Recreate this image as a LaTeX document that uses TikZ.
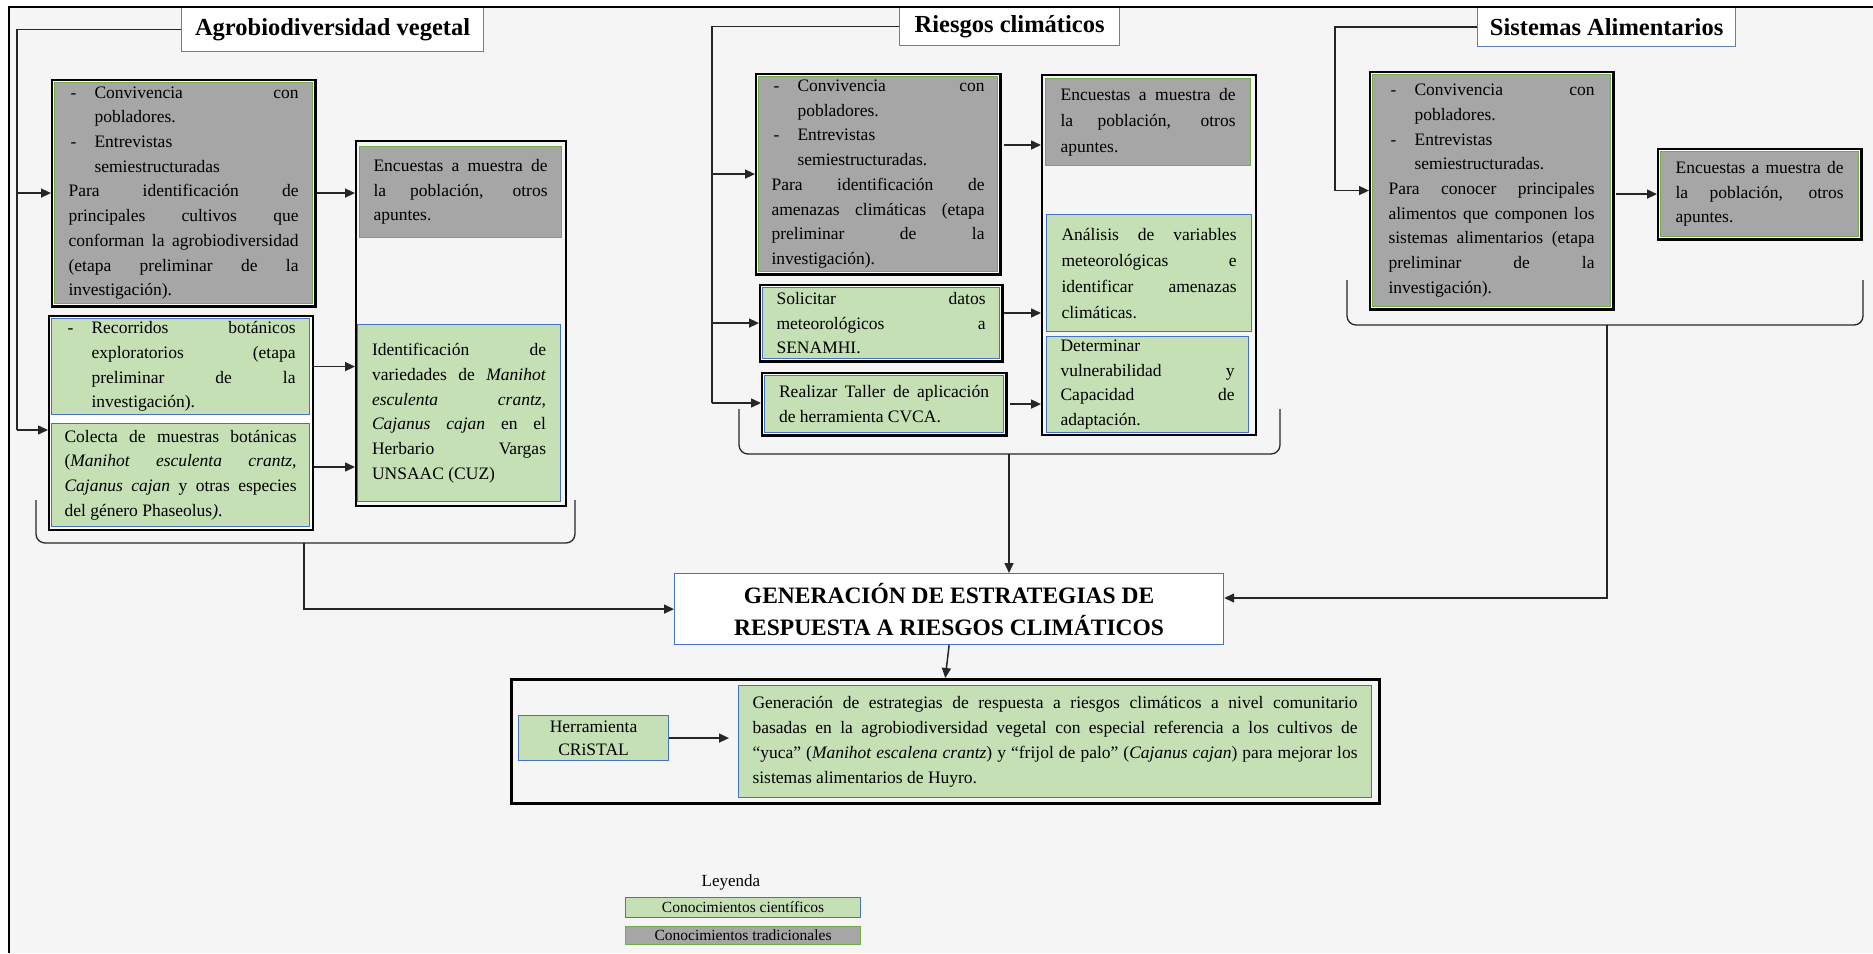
\documentclass[tikz,border=0pt]{standalone}
\usepackage{fontspec}
\setmainfont{Liberation Serif}
\usetikzlibrary{arrows.meta,calc}
\definecolor{bgc}{HTML}{F5F5F5}
\definecolor{grayF}{HTML}{A6A6A6}
\definecolor{greenF}{HTML}{C5E0B4}
\definecolor{greenB}{HTML}{70AD47}
\definecolor{blueB}{HTML}{4472C4}
\definecolor{titleB}{HTML}{5B82B5}
\tolerance=10000 \hyphenpenalty=10000 \exhyphenpenalty=10000 \hbadness=10000 \vbadness=10000
\newcommand{\bodyf}{\fontsize{17.5}{24.7}\selectfont}
\newcommand{\bul}[1]{\noindent\hangindent=26pt\hangafter=0\llap{\makebox[26pt][l]{\hspace{2pt}-}}#1\par}
\begin{document}
\begin{tikzpicture}[x=1pt,y=-1pt,
  base/.style={inner sep=0pt, anchor=north west, font=\bodyf, align=justify},
  trad/.style={base, fill=grayF, draw=greenB, line width=1.1pt},
  tradO/.style={trad, preaction={draw=black, line width=8pt}, preaction={draw=white, line width=3.6pt}},
  sci/.style={base, fill=greenF, draw=blueB, line width=1.1pt},
  sciO/.style={sci, preaction={draw=black, line width=8pt}, preaction={draw=white, line width=3.6pt}},
  bigbox/.style={draw=black, line width=2pt, anchor=north west, inner sep=0pt},
  titlebox/.style={draw=titleB, fill=white, line width=1.2pt, anchor=north west, inner sep=0pt, align=center, font=\fontsize{24.5}{28}\selectfont\bfseries},
  conn/.style={line width=1.5pt, draw=black!85},
  arr/.style={conn, -{Triangle[length=10pt,width=9pt]}},
  brk/.style={line width=1.3pt, draw=black!85, rounded corners=9pt}]
\useasboundingbox (0,0) rectangle (1873,953);
\fill[white] (0,0) rectangle (1873,953);
\fill[bgc] (9,7) rectangle (1873,953);

% ---------- titles ----------
\node[titlebox, minimum width=302pt, minimum height=44pt] (TA) at (181,7) {Agrobiodiversidad vegetal};
\node[titlebox, minimum width=220pt, minimum height=38pt] (TR) at (899,7) {Riesgos climáticos};
\node[titlebox, minimum width=258pt, minimum height=39pt] (TS) at (1477,7) {Sistemas Alimentarios};

% ---------- Agrobiodiversidad ----------
\node[tradO, minimum width=258pt, minimum height=221pt, text width=230pt] (A1) at (54,82)
 {\bul{Convivencia con\linebreak pobladores.}\bul{Entrevistas\linebreak semiestructuradas}\noindent Para identificación de\linebreak principales cultivos que\linebreak conforman la agrobiodiversidad\linebreak (etapa preliminar de la\linebreak investigación).};
\node[draw=black, line width=2.2pt, fill=white, anchor=north west, inner sep=0pt, minimum width=264pt, minimum height=214pt] (Aout) at (48,315) {};
\node[sci, minimum width=258pt, minimum height=96pt, text width=230pt] (A2) at (51,318)
 {\bul{Recorridos botánicos\linebreak exploratorios (etapa\linebreak preliminar de la\linebreak investigación).}};
\node[sci, minimum width=258pt, minimum height=103pt, text width=232pt] (A3) at (51,423)
 {\noindent Colecta de muestras botánicas\linebreak (\textit{Manihot esculenta crantz,}\linebreak \textit{Cajanus cajan} y otras especies\linebreak del género Phaseolus\textit{)}.};
\node[bigbox, minimum width=210pt, minimum height=365pt] (Abig) at (355,140) {};
\node[trad, minimum width=202pt, minimum height=91pt, text width=174pt] (Aenc) at (359,146)
 {\noindent Encuestas a muestra de\linebreak la población, otros\linebreak apuntes.};
\node[sci, minimum width=203pt, minimum height=177pt, text width=174pt] (Aid) at (357,324)
 {\noindent Identificación de\linebreak variedades de \textit{Manihot}\linebreak \textit{esculenta crantz,}\linebreak \textit{Cajanus cajan} en el\linebreak Herbario Vargas\linebreak UNSAAC (CUZ)};

% ---------- Riesgos ----------
\node[tradO, minimum width=239pt, minimum height=195pt, text width=213pt] (R1) at (758,76)
 {\bul{Convivencia con\linebreak pobladores.}\bul{Entrevistas\linebreak semiestructuradas.}\noindent Para identificación de\linebreak amenazas climáticas (etapa\linebreak preliminar de la\linebreak investigación).};
\node[sciO, minimum width=237pt, minimum height=71pt, text width=209pt] (Rsol) at (762,287)
 {\noindent Solicitar datos\linebreak meteorológicos a\linebreak SENAMHI.};
\node[sciO, minimum width=239pt, minimum height=57pt, text width=210pt] (Rreal) at (764,375)
 {\noindent Realizar Taller de aplicación\linebreak de herramienta CVCA.};
\node[bigbox, minimum width=214pt, minimum height=360pt] (Rbig) at (1041,74) {};
\node[trad, minimum width=205pt, minimum height=87pt, text width=175pt, font=\fontsize{17.5}{26}\selectfont] (Renc) at (1045,78)
 {\noindent Encuestas a muestra de\linebreak la población, otros\linebreak apuntes.};
\node[sci, minimum width=205pt, minimum height=117pt, text width=175pt, font=\fontsize{17.5}{26}\selectfont] (Rana) at (1046,214)
 {\noindent Análisis de variables\linebreak meteorológicas e\linebreak identificar amenazas\linebreak climáticas.};
\node[sci, minimum width=202pt, minimum height=96pt, text width=174pt] (Rdet) at (1046,336)
 {\noindent Determinar\linebreak vulnerabilidad y\linebreak Capacidad de\linebreak adaptación.};

% ---------- Sistemas ----------
\node[tradO, minimum width=238pt, minimum height=232pt, text width=206pt] (S1) at (1372,74)
 {\bul{Convivencia con\linebreak pobladores.}\bul{Entrevistas\linebreak semiestructuradas.}\noindent Para conocer principales\linebreak alimentos que componen los\linebreak sistemas alimentarios (etapa\linebreak preliminar de la\linebreak investigación).};
\node[tradO, minimum width=198pt, minimum height=85pt, text width=168pt] (S2) at (1660,151)
 {\noindent Encuestas a muestra de\linebreak la población, otros\linebreak apuntes.};

% ---------- central ----------
\node[draw=blueB, fill=white, line width=1.2pt, anchor=north west, inner sep=0pt, minimum width=549pt, minimum height=71pt, align=center, font=\fontsize{23.5}{32}\selectfont\bfseries] (Gen) at (674,573)
 {GENERACIÓN DE ESTRATEGIAS DE\\RESPUESTA A RIESGOS CLIMÁTICOS};
\node[draw=black, line width=2.5pt, anchor=north west, inner sep=0pt, minimum width=868pt, minimum height=124pt] (Bout) at (510,678) {};
\node[sci, align=center, minimum width=150pt, minimum height=45pt, font=\fontsize{17.5}{23}\selectfont] (Herr) at (518,715) {Herramienta\\CRiSTAL};
\node[sci, minimum width=633pt, minimum height=112pt, text width=605pt, font=\fontsize{17.5}{25}\selectfont] (Bgreen) at (738,685)
 {\noindent Generación de estrategias de respuesta a riesgos climáticos a nivel comunitario\linebreak basadas en la agrobiodiversidad vegetal con especial referencia a los cultivos de\linebreak “yuca” (\textit{Manihot escalena crantz}) y “frijol de palo” (\textit{Cajanus cajan}) para mejorar los\linebreak sistemas alimentarios de Huyro.};

% ---------- legend ----------
\node[font=\fontsize{17}{20}\selectfont, inner sep=0pt] (Ley) at (731,882) {Leyenda};
\node[sci, align=center, minimum width=235pt, minimum height=20pt, font=\fontsize{15.5}{18}\selectfont] (LS) at (625,897) {Conocimientos científicos};
\node[trad, align=center, minimum width=235pt, minimum height=18pt, font=\fontsize{15.5}{18}\selectfont] (LT) at (625,926) {Conocimientos tradicionales};

% ---------- connectors: Agrobiodiversidad ----------
\coordinate (lA) at (17,430);
\draw[conn] (TA.west) -| (lA);
\draw[arr] (lA |- A1.west) -- ($(A1.west)+(-3,0)$);
\draw[arr] (lA) -- (lA -| Aout.west);
\draw[arr] ($(A1.east)+(4,0)$) -- (A1.east -| Abig.west);
\draw[arr] (Aout.east |- A2.east) -- (A2.east -| Abig.west);
\coordinate (yA3) at (0,467);
\draw[arr] (Aout.east |- yA3) -- (Abig.west |- yA3);
\draw[brk] (36,500) -- (36,543) -- (575,543) -- (575,500);
\coordinate (bA) at (304,543);
\draw[arr] (bA) |- (Gen.west);

% ---------- connectors: Riesgos ----------
\coordinate (lR) at (712,403);
\draw[conn] (TR.west) -| (lR);
\draw[arr] (lR |- R1.west) -- ($(R1.west)+(-3,0)$);
\draw[arr] (lR |- Rsol.west) -- ($(Rsol.west)+(-3,0)$);
\draw[arr] (lR) -- ($(lR -| Rreal.west)+(-3,0)$);
\coordinate (y145) at (0,145);
\draw[arr] ($(R1.east |- y145)+(6,0)$) -- (Rbig.west |- y145);
\coordinate (y313) at (0,313);
\draw[arr] ($(Rsol.east |- y313)+(4,0)$) -- (Rbig.west |- y313);
\draw[arr] ($(Rreal.east)+(6,0)$) -- (Rreal.east -| Rbig.west);
\draw[brk] (739,409) -- (739,454) -- (1280,454) -- (1280,409);
\coordinate (bR) at (1009,454);
\draw[arr] (bR) -- (bR |- Gen.north);

% ---------- connectors: Sistemas ----------
\coordinate (lS) at (1335,100);
\draw[arr] (TS.west) -| (lS |- S1.west) -- ($(S1.west)+(-3,0)$);
\draw[arr] ($(S1.east |- S2.west)+(5,0)$) -- ($(S2.west)+(-3,0)$);
\draw[brk] (1347,280) -- (1347,325) -- (1863,325) -- (1863,280);
\coordinate (bS) at (1607,325);
\coordinate (y598) at (0,598);
\draw[arr] (bS) |- (Gen.east |- y598);

% ---------- bottom ----------
\draw[arr] (Gen.south) -- (Bout.north);
\draw[arr, shorten >=9pt] (Herr.east) -- (Herr.east -| Bgreen.west);

% ---------- frame ----------
\draw[line width=1.3pt] (9,953) -- (9,7) -- (1873,7);
\end{tikzpicture}
\end{document}
